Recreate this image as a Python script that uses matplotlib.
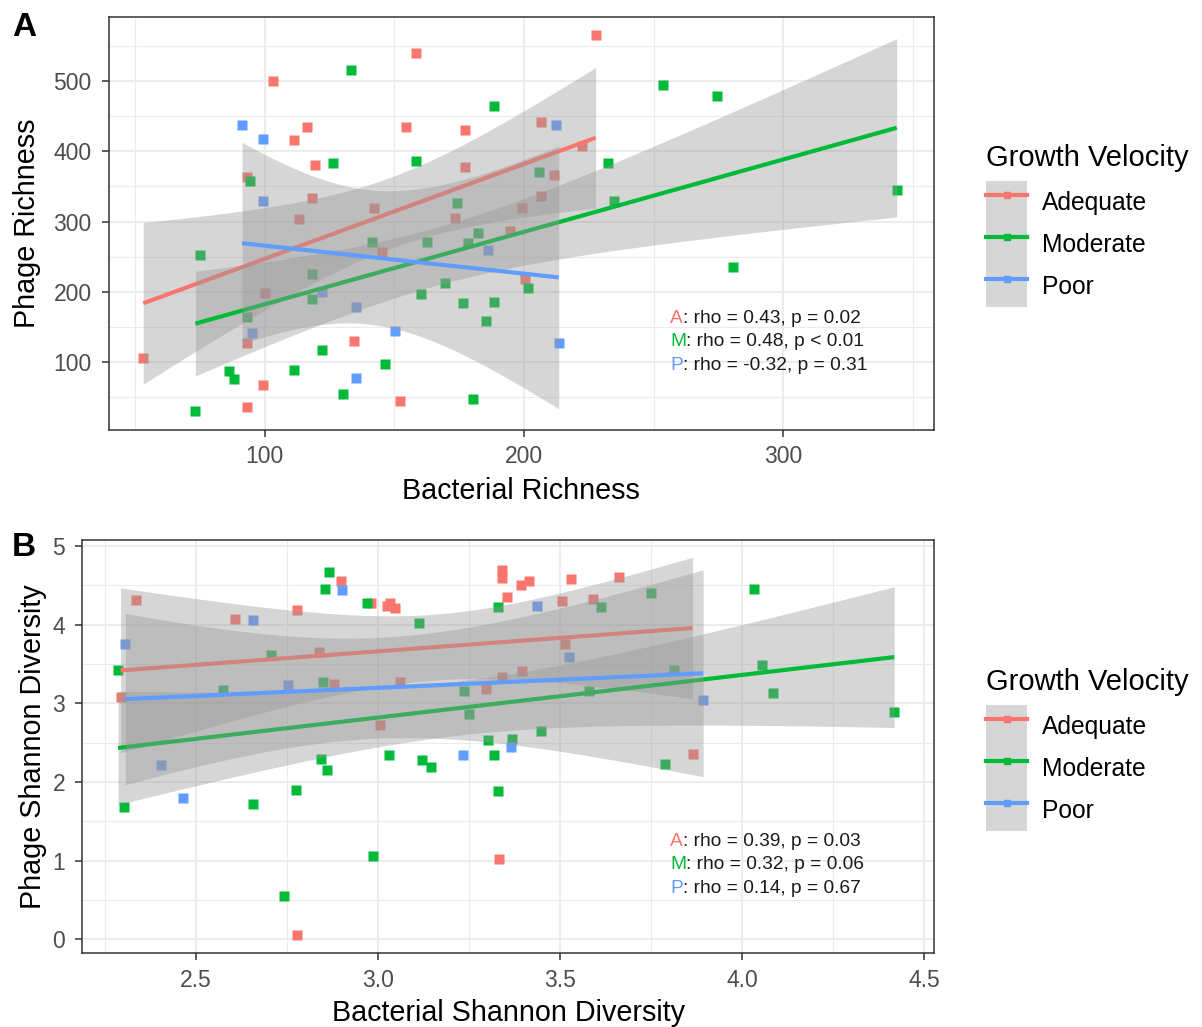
import numpy as np
import matplotlib
matplotlib.use("Agg")
import matplotlib.pyplot as plt
from matplotlib.lines import Line2D
from matplotlib.patches import Patch
from matplotlib.ticker import MultipleLocator, FormatStrFormatter

plt.rcParams['font.family'] = ['Liberation Sans', 'DejaVu Sans']

groups = ["Adequate", "Moderate", "Poor"]
group_colors = ["#F8766D", "#00BA38", "#619CFF"]

# panel A: bacterial richness vs phage richness
a_adequate_x = [158.4, 103.3, 116.3, 111.3, 154.4, 177.4, 119.4, 177.4, 93.2, 118.3, 142.3, 113.2,
                173.4, 194.5, 145.2, 100.3, 93.2, 134.3, 53.2, 99.2, 93.2, 152.3, 227.6, 206.4,
                222.5, 211.5, 206.4, 199.4, 200.3]
a_adequate_y = [540, 500, 435, 416, 434, 430, 380, 378, 364, 333, 319, 304,
                305, 287, 257, 198, 127, 130, 106, 67, 37, 45, 566, 442,
                407, 367, 337, 320, 219]
a_moderate_x = [133.4, 188.5, 126.3, 158.4, 94.4, 174.3, 182.3, 141.4, 162.5, 178.3, 75.2, 118.3,
                169.4, 118.3, 160.3, 176.4, 188.5, 93.2, 185.4, 122.3, 86.2, 88.3, 111.3, 146.3,
                130.4, 73.3, 180.4, 253.6, 274.6, 232.5, 205.6, 343.7, 234.6, 280.6, 201.6]
a_moderate_y = [516, 465, 383, 386, 358, 326, 284, 271, 271, 270, 253, 226,
                213, 190, 197, 184, 186, 165, 158, 117, 88, 76, 89, 97,
                55, 31, 48, 494, 478, 384, 371, 345, 329, 235, 206]
a_poor_x = [91.3, 99.3, 99.3, 186.3, 122.3, 135.3, 95.3, 150.4, 135.3, 212.5, 213.4]
a_poor_y = [438, 417, 329, 259, 200, 179, 141, 144, 77, 437, 128]
a_stats = ["rho = 0.43, p = 0.02", "rho = 0.48, p < 0.01", "rho = -0.32, p = 0.31"]

# panel B: bacterial vs phage shannon diversity
b_adequate_x = [2.335, 2.607, 2.777, 2.899, 2.980, 3.024, 3.034, 3.046, 3.340, 3.340, 3.355, 2.837,
                2.293, 2.879, 3.061, 3.296, 3.340, 3.006, 3.332, 2.777, 3.392, 3.414, 3.531, 3.663,
                3.505, 3.591, 3.515, 3.396, 3.864]
b_adequate_y = [4.31, 4.07, 4.19, 4.55, 4.27, 4.24, 4.27, 4.21, 4.69, 4.59, 4.35, 3.65,
                3.08, 3.24, 3.27, 3.18, 3.34, 2.72, 1.02, 0.05, 4.50, 4.56, 4.58, 4.61,
                4.30, 4.33, 3.75, 3.41, 2.36]
b_moderate_x = [2.866, 2.854, 2.969, 3.114, 3.330, 2.705, 2.286, 2.575, 2.849, 3.236, 3.249, 3.302,
                3.369, 2.844, 2.859, 3.030, 3.122, 3.146, 3.318, 2.775, 2.657, 2.303, 3.329, 2.987,
                2.741, 3.749, 3.612, 4.033, 3.813, 4.054, 3.579, 4.084, 4.418, 3.447, 3.789]
b_moderate_y = [4.67, 4.46, 4.27, 4.02, 4.23, 3.61, 3.43, 3.17, 3.27, 3.16, 2.87, 2.54,
                2.55, 2.29, 2.15, 2.34, 2.28, 2.19, 2.34, 1.90, 1.72, 1.68, 1.88, 1.06,
                0.55, 4.40, 4.23, 4.46, 3.42, 3.49, 3.16, 3.13, 2.89, 2.65, 2.23]
b_poor_x = [2.902, 2.657, 2.306, 2.753, 2.403, 2.464, 3.233, 3.364, 3.436, 3.524, 3.893]
b_poor_y = [4.44, 4.06, 3.75, 3.23, 2.22, 1.80, 2.34, 2.45, 4.24, 3.59, 3.04]
b_stats = ["rho = 0.39, p = 0.03", "rho = 0.32, p = 0.06", "rho = 0.14, p = 0.67"]


def t975(df):
    # Cornish-Fisher approximation of the 97.5% t quantile
    z = 1.959964
    g1 = (z**3 + z) / 4
    g2 = (5 * z**5 + 16 * z**3 + 3 * z) / 96
    g3 = (3 * z**7 + 19 * z**5 + 17 * z**3 - 15 * z) / 384
    g4 = (79 * z**9 + 776 * z**7 + 1482 * z**5 - 1920 * z**3 - 945 * z) / 92160
    return z + g1 / df + g2 / df**2 + g3 / df**3 + g4 / df**4


def lm_band(x, y, n_out=80):
    x = np.asarray(x, float)
    y = np.asarray(y, float)
    slope, icpt = np.polyfit(x, y, 1)
    xs = np.linspace(x.min(), x.max(), n_out)
    fit = icpt + slope * xs
    n = len(x)
    s = np.sqrt(np.sum((y - (icpt + slope * x)) ** 2) / (n - 2))
    se = s * np.sqrt(1 / n + (xs - x.mean()) ** 2 / np.sum((x - x.mean()) ** 2))
    t = t975(n - 2)
    return xs, fit, fit - t * se, fit + t * se


def draw_panel(ax, xs, ys, stats, xlim, ylim, xstep, ystep, xfmt, xlabel, ylabel,
               xpad, ypad, stat_x):
    for x, y, c in zip(xs, ys, group_colors):
        ax.plot(x, y, ls="none", marker="s", ms=6.5, mec="none", color=c, zorder=2)
    for x, y, c in zip(xs, ys, group_colors):
        gx, fit, lo, hi = lm_band(x, y)
        ax.fill_between(gx, lo, hi, color="#999999", alpha=0.4, lw=0, zorder=3)
        ax.plot(gx, fit, color=c, lw=3.0, zorder=3, solid_capstyle="butt")
    ax.set_xlim(*xlim)
    ax.set_ylim(*ylim)
    ax.xaxis.set_major_locator(MultipleLocator(xstep))
    ax.xaxis.set_minor_locator(MultipleLocator(xstep / 2))
    ax.yaxis.set_major_locator(MultipleLocator(ystep))
    ax.yaxis.set_minor_locator(MultipleLocator(ystep / 2))
    ax.xaxis.set_major_formatter(FormatStrFormatter(xfmt))
    ax.grid(which="major", color="#EBEBEB", lw=1.3)
    ax.grid(which="minor", color="#EBEBEB", lw=0.8)
    ax.set_axisbelow(True)
    for sp in ax.spines.values():
        sp.set_color("#333333")
        sp.set_linewidth(1.1)
    ax.tick_params(which="major", length=5, width=1.1, color="#333333",
                   labelcolor="#4D4D4D", labelsize=16.5)
    ax.tick_params(axis="x", which="major", pad=6)
    ax.tick_params(axis="y", which="major", pad=7)
    ax.tick_params(which="minor", length=0)
    ax.set_xlabel(xlabel, fontsize=20.7, labelpad=xpad)
    ax.set_ylabel(ylabel, fontsize=20.7, labelpad=ypad)
    for i, (letter, txt, c) in enumerate(zip(["A", "M", "P"], stats, group_colors)):
        t1 = ax.text(stat_x, 0.27 - i * 0.0565, letter, color=c, fontsize=13.8,
                     transform=ax.transAxes, va="center", ha="left", zorder=5)
        ax.annotate(": " + txt, xy=(1, 0.5), xycoords=t1, va="center", ha="left",
                    fontsize=13.8, color="#1A1A1A", zorder=5)


def add_legend(fig, top):
    handles = [(Patch(facecolor="#999999", alpha=0.4, lw=0),
                Line2D([], [], color=c, lw=3, marker="s", ms=5)) for c in group_colors]
    leg = fig.legend(handles, groups, title="Growth Velocity", loc="upper left",
                     bbox_to_anchor=(986 / 1202, top), frameon=False, fontsize=17.7,
                     title_fontsize=21, borderpad=0, borderaxespad=0, labelspacing=0,
                     handlelength=1.67, handleheight=2.25, handletextpad=0.61,
                     alignment="left")
    leg._legend_box.sep = 6.5
    return leg


fig = plt.figure(figsize=(12.02, 10.27), dpi=100)
ax_a = fig.add_axes([108.5 / 1202, 1 - 430 / 1027, 825.8 / 1202, 413.3 / 1027])
ax_b = fig.add_axes([82 / 1202, 1 - 953.3 / 1027, 852.3 / 1202, 413.8 / 1027])

draw_panel(ax_a, [a_adequate_x, a_moderate_x, a_poor_x], [a_adequate_y, a_moderate_y, a_poor_y],
           a_stats, (39.8, 358.2), (3.7, 591.4), 100, 100, "%d",
           "Bacterial Richness", "Phage Richness", 6, 9, 0.680)
draw_panel(ax_b, [b_adequate_x, b_moderate_x, b_poor_x], [b_adequate_y, b_moderate_y, b_poor_y],
           b_stats, (2.187, 4.528), (-0.178, 5.083), 0.5, 1, "%.1f",
           "Bacterial Shannon Diversity", "Phage Shannon Diversity", 5.5, 4, 0.690)

add_legend(fig, 1 - 144 / 1027)
add_legend(fig, 1 - 668 / 1027)

fig.text(12 / 1202, 1 - 12 / 1027, "A", fontsize=24, fontweight="bold", va="top", ha="left")
fig.text(12 / 1202, 1 - 532 / 1027, "B", fontsize=24, fontweight="bold", va="top", ha="left")

fig.savefig("out.png", dpi=100)
